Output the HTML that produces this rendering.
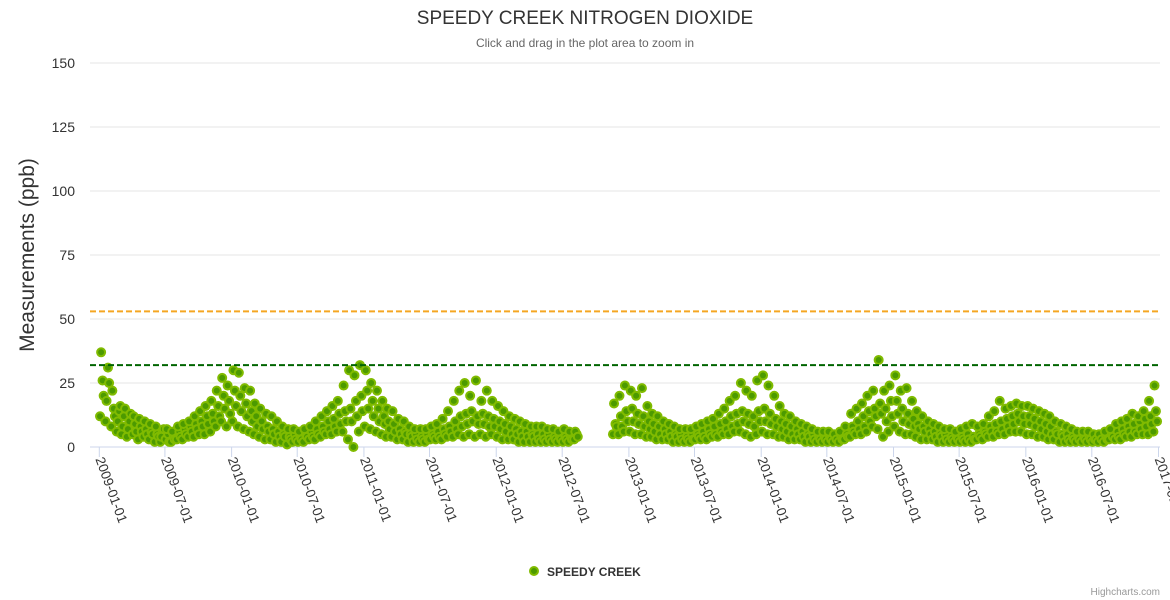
<!DOCTYPE html>
<html><head><meta charset="utf-8">
<style>
html,body{margin:0;padding:0;background:#fff;}
svg{display:block;font-family:"Liberation Sans",sans-serif;}
</style></head>
<body>
<svg id="chart" width="1170" height="600" viewBox="0 0 1170 600">
<text x="585" y="24" text-anchor="middle" font-size="19" fill="#333">SPEEDY CREEK NITROGEN DIOXIDE</text>
<text x="585" y="47" text-anchor="middle" font-size="12" fill="#666">Click and drag in the plot area to zoom in</text>
<text transform="translate(34,255) rotate(-90)" text-anchor="middle" font-size="21" fill="#333">Measurements (ppb)</text>
<g id="grid"></g><g id="xaxis"></g><g id="points"></g><g id="plotlines"></g>
<g>
<circle cx="534" cy="571" r="4" fill="#4c9a00" stroke="#80bb00" stroke-width="2"/>
<text x="547" y="576" font-size="12" font-weight="bold" fill="#333">SPEEDY CREEK</text>
</g>
<text x="1160" y="595" text-anchor="end" font-size="10" fill="#999">Highcharts.com</text>
</svg>
<script>
const yTicks=[0,25,50,75,100,125,150];
const xTickLabels=["2009-01-01","2009-07-01","2010-01-01","2010-07-01","2011-01-01","2011-07-01","2012-01-01","2012-07-01","2013-01-01","2013-07-01","2014-01-01","2014-07-01","2015-01-01","2015-07-01","2016-01-01","2016-07-01","2017-01-01"];
const thresholds=[53,32];
const thresholdColors=["#f5a623","#006400"];
const startYear=2009;
const v2009=[12,26,37,20,10,31,18,25,8,15,22,12,6,14,10,16,5,12,8,15,4,10,7,13,5,9,12,6,3,8,11,6,4,7,10,5,3,6,9,5,2,5,8,4,2,6,4,7,3,5,7,2,2,4,6,3,3,6,8,4,3,7,9,5,4,8,10,6,4,9,12,7,5,10,14,8,5,12,16,9,6,13,18,10,8,16,22,12,10,20,27,15,8,18,24,13];
const v2010=[10,22,30,16,8,20,29,14,7,17,23,12,6,14,22,10,5,12,17,8,4,10,15,7,3,8,13,6,3,7,12,5,2,6,10,4,2,5,8,4,1,4,7,3,2,5,7,3,2,4,6,3,2,5,7,4,3,6,8,4,3,7,10,5,4,8,12,6,5,10,14,7,5,11,16,8,6,13,18,9,6,14,24,10,3,15,30,10,0,18,28,12,6,20,32,14];
const v2011=[8,22,30,15,7,18,25,12,6,15,22,10,5,12,18,9,4,10,15,7,4,9,14,6,3,7,11,5,3,6,10,5,2,5,8,4,2,5,7,3,2,4,7,3,2,5,7,3,3,5,8,4,3,6,9,4,3,7,11,5,4,8,14,6,4,10,18,7,5,12,22,8,4,13,25,9,5,14,20,10,4,12,26,9,5,13,18,9,4,12,22,8,5,11,18,8];
const v2012=[4,10,16,7,3,9,14,6,3,8,12,5,3,7,11,5,2,6,10,4,2,6,9,4,2,5,8,4,2,5,8,3,2,5,8,3,2,5,7,3,2,4,7,3,2,4,6,3,2,4,7,3,2,4,6,3,3,5,6,4,null,null,null,null,null,null,null,null,null,null,null,null,null,null,null,null,null,null,null,null,null,null,null,null,5,9,17,8,5,12,20,8,6,14,24,10];
const v2013=[6,15,22,10,5,13,20,9,5,12,23,8,4,10,16,7,4,9,13,6,3,8,12,5,3,7,10,5,3,6,9,4,2,5,8,4,2,5,7,3,2,4,7,3,2,5,7,3,3,5,8,4,3,6,9,4,3,7,10,5,4,8,11,5,4,9,13,6,5,10,15,7,5,12,18,8,6,13,20,9,6,14,25,10,5,13,22,9,4,12,20,8,5,14,26,10];
const v2014=[6,15,28,10,5,13,24,9,5,11,20,8,4,10,16,7,4,9,13,6,3,8,12,5,3,7,10,5,3,6,9,4,2,5,8,4,2,5,7,3,2,4,6,3,2,4,6,3,2,4,6,3,2,4,5,3,2,4,6,3,3,5,8,4,4,8,13,6,5,10,15,7,5,12,17,8,6,14,20,10,8,15,22,12,7,17,34,13,4,15,22,10,6,18,24,12];
const v2015=[8,18,28,13,6,15,22,10,5,13,23,9,5,11,18,8,4,9,14,7,3,8,12,6,3,7,10,5,3,6,9,4,2,5,8,4,2,5,7,3,2,4,7,3,2,4,6,3,2,4,7,3,2,5,8,3,2,4,9,3,3,5,8,4,3,6,9,5,4,8,12,6,4,9,14,6,5,10,18,7,5,11,15,8,6,12,16,9,6,13,17,10,6,12,16,9];
const v2016=[5,12,16,9,5,11,15,8,4,10,14,7,4,9,13,6,3,8,12,5,3,6,10,5,2,5,9,4,2,5,8,3,2,4,7,3,2,4,6,3,2,4,6,3,2,4,6,3,2,3,5,3,2,4,5,3,2,4,6,3,3,5,7,4,3,6,9,4,3,7,10,5,4,8,11,6,4,9,13,6,5,10,12,7,5,11,14,8,5,12,18,9,6,14,24,10];
const yearValues=[v2009,v2010,v2011,v2012,v2013,v2014,v2015,v2016];

const NS="http://www.w3.org/2000/svg";
const X0=90,X1=1160,Y0=447,Y1=63;
const tStart=Date.UTC(2009,0,1),tEnd=Date.UTC(2017,0,1);
const xPos=t=>99.3+(t-tStart)/(tEnd-tStart)*(1158.5-99.3);
const yPos=v=>Y0-v/150*(Y0-Y1);
const dayOffsets=[2,9,5,12];
function mk(tag,attrs,parent){const e=document.createElementNS(NS,tag);for(const k in attrs)e.setAttribute(k,attrs[k]);parent.appendChild(e);return e;}
const grid=document.getElementById('grid');
yTicks.forEach(v=>{
  const l=mk('line',{x1:X0,x2:X1,y1:yPos(v),y2:yPos(v),stroke:v===0?'#ccd6eb':'#e6e6e6','stroke-width':1},grid);
  
  
  const t=mk('text',{x:75,y:yPos(v)+5,'text-anchor':'end','font-size':14,fill:'#333'},grid);
  t.textContent=v;
  
  
});
const xa=document.getElementById('xaxis');
xTickLabels.forEach(s=>{
  const p=s.split('-');const x=xPos(Date.UTC(+p[0],+p[1]-1,+p[2]));
  const tk=mk('line',{x1:x,x2:x,y1:Y0,y2:Y0+10,stroke:'#ccd6eb'},xa);
  
  
  const t=mk('text',{transform:`translate(${x-4},${Y0+12}) rotate(70)`,'font-size':13.5,fill:'#333'},xa);
  t.textContent=s;
  
  
});
const pg=document.getElementById('points');
yearValues.forEach((arr,yi)=>{
  arr.forEach((v,i)=>{
    if(v===null)return;
    const slot=Math.floor(i/4),k=i%4;
    const month=Math.floor(slot/2),day=1+(slot%2)*15+dayOffsets[k];
    const x=xPos(Date.UTC(startYear+yi,month,day));
    const c=mk('circle',{cx:x,cy:yPos(v),r:4,fill:'#4c9a00',stroke:'#80bb00','stroke-width':2},pg);
    
    
  });
});
const pl=document.getElementById('plotlines');
thresholds.forEach((v,i)=>{
  const l=mk('line',{x1:X0,x2:X1,y1:yPos(v),y2:yPos(v),stroke:thresholdColors[i],'stroke-width':2,'stroke-dasharray':'6,3'},pl);
  
  
});
</script>
</body></html>
